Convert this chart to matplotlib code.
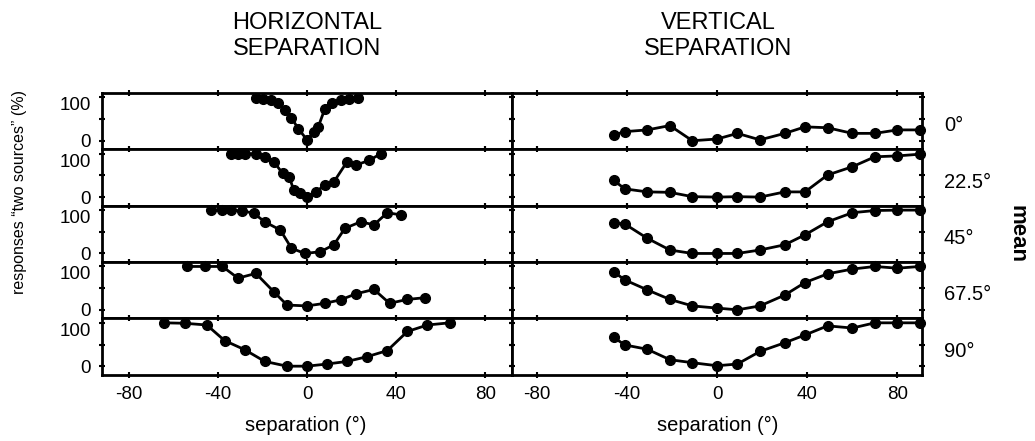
import numpy as np
import matplotlib.pyplot as plt

plt.rcParams['font.family'] = ['Liberation Sans', 'DejaVu Sans']
plt.rcParams['axes.unicode_minus'] = False

elev_labels = ['0°', '22.5°', '45°', '67.5°', '90°']

# horizontal separation (left column), one row per elevation
h_sep = [
    [-23, -20, -16, -13, -10, -7, -4, 0, 3, 5, 8, 11, 15, 19, 23],
    [-34, -31, -28, -23, -19, -15, -11, -8, -6, -3, 0, 4, 8, 12, 18, 22, 28, 33],
    [-43, -38, -34, -29, -24, -19, -12, -7, -1, 6, 12, 17, 24, 30, 36, 42],
    [-54, -46, -38, -31, -23, -15, -9, 0, 8, 15, 22, 30, 37, 45, 53],
    [-64, -55, -45, -37, -28, -19, -9, 0, 9, 18, 27, 36, 45, 54, 64],
]
h_resp = [
    [98, 96, 95, 87, 72, 53, 28, 2, 20, 32, 74, 86, 93, 97, 99],
    [100, 100, 100, 100, 93, 82, 55, 47, 16, 9, 0, 12, 28, 35, 82, 74, 85, 100],
    [100, 100, 100, 98, 93, 73, 54, 12, 0, 4, 20, 58, 73, 66, 94, 89],
    [100, 100, 100, 73, 84, 42, 11, 9, 15, 23, 37, 47, 15, 24, 28],
    [100, 99, 95, 59, 38, 11, 0, 0, 5, 11, 22, 36, 80, 95, 100],
]

# vertical separation (right column)
v_sep = [-46, -41, -31, -21, -11, 0, 9, 19, 30, 39, 49, 60, 70, 80, 90]
v_resp = [
    [13, 21, 25, 35, 0, 4, 17, 2, 17, 32, 30, 17, 17, 25, 25],
    [39, 19, 12, 11, 1, 0, 1, 0, 12, 12, 51, 70, 93, 95, 99],
    [71, 68, 35, 8, 0, 0, 0, 8, 20, 43, 73, 94, 99, 100, 100],
    [88, 69, 46, 24, 9, 4, 0, 9, 34, 63, 83, 94, 100, 96, 100],
    [67, 49, 39, 15, 8, 1, 5, 34, 54, 72, 93, 88, 100, 100, 100],
]

fig = plt.figure(figsize=(10.35, 4.41), dpi=100)
axes = fig.subplots(5, 2)
fig.subplots_adjust(left=0.0986, right=0.891, top=0.789, bottom=0.150,
                    hspace=0, wspace=0)

for r in range(5):
    for c in range(2):
        ax = axes[r, c]
        if c == 0:
            xs, ys = h_sep[r], h_resp[r]
            ax.set_xlim(-92, 92)
        else:
            xs, ys = v_sep, v_resp[r]
            ax.set_xlim(-91, 91)
        ax.plot(xs, ys, color='black', lw=2, marker='o', ms=7,
                mfc='black', mec='black', clip_on=False, zorder=3)
        ax.set_ylim(-20, 110)
        ax.set_yticks([0, 50, 100])
        ax.set_xticks([-80, -40, 0, 40, 80])
        for s in ax.spines.values():
            s.set_linewidth(2)
        ax.tick_params(direction='inout', length=4, width=1.5, top=True,
                       right=True, labelsize=13.5, pad=6)
        if c == 0:
            ax.set_yticklabels(['0', '', '100'])
            # "100" sits just under the top edge, as in the printed figure
            ax.get_yticklabels()[2].set_va('top')
        else:
            ax.set_yticklabels([])
            ax.text(1.053, 0.42, elev_labels[r], transform=ax.transAxes,
                    ha='left', va='center', fontsize=14.5)
        if r < 4:
            ax.set_xticklabels([])

fig.text(307 / 1035, 1 - 36 / 441, 'HORIZONTAL\nSEPARATION', ha='center',
         va='center', fontsize=17, linespacing=1.2)
fig.text(718 / 1035, 1 - 36 / 441, 'VERTICAL\nSEPARATION', ha='center',
         va='center', fontsize=17, linespacing=1.2)
fig.text(306 / 1035, 1 - 425 / 441, 'separation (°)', ha='center',
         va='center', fontsize=14.5)
fig.text(718 / 1035, 1 - 425 / 441, 'separation (°)', ha='center',
         va='center', fontsize=14.5)
fig.text(20 / 1035, 1 - 192 / 441, 'responses “two sources” (%)',
         rotation=90, ha='center', va='center', fontsize=11.5)
fig.text(1017 / 1035, 1 - 234 / 441, 'mean', rotation=-90, ha='center',
         va='center', fontsize=16, fontweight='bold')

plt.savefig('out.png', dpi=100)
